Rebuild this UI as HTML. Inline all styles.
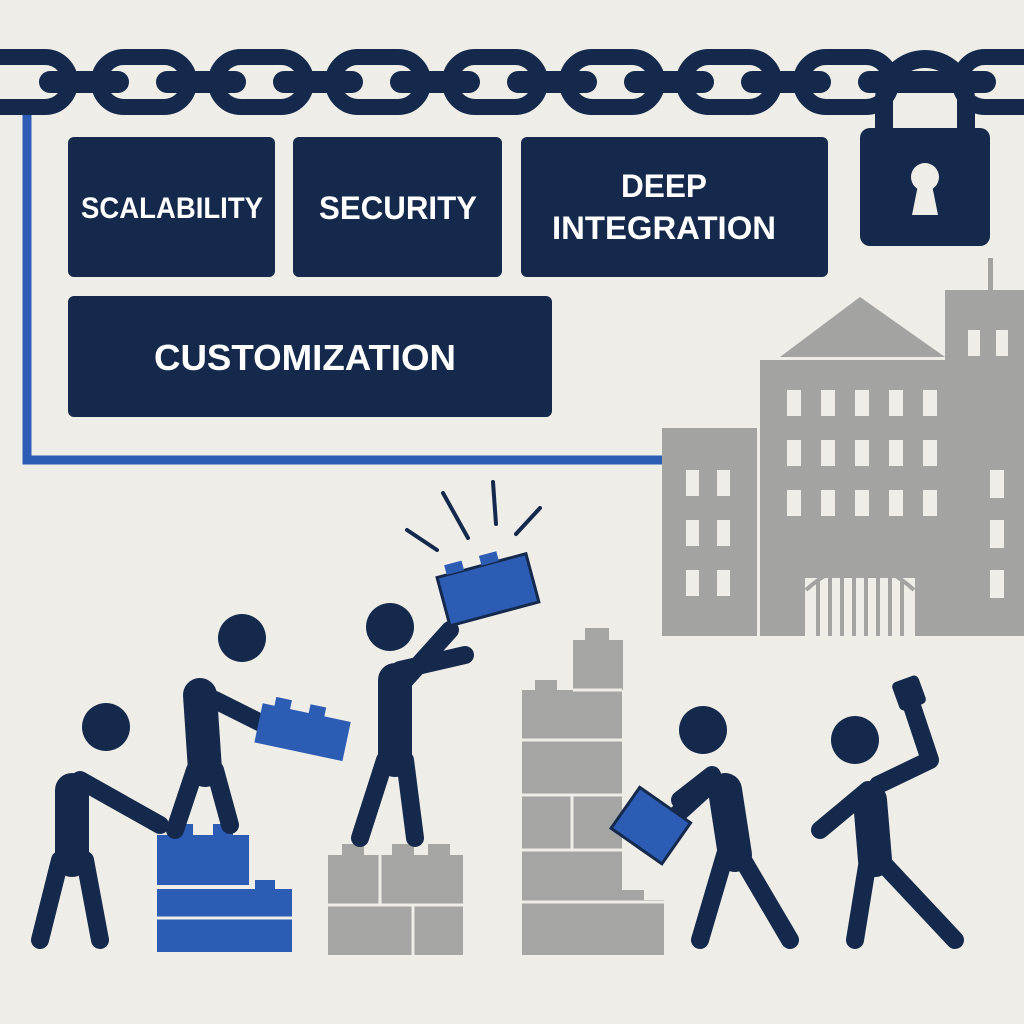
<!DOCTYPE html>
<html><head><meta charset="utf-8"><style>
html,body{margin:0;padding:0;background:#efede8;}
svg{display:block}
</style></head><body>
<svg width="1024" height="1024" viewBox="0 0 1024 1024" xmlns="http://www.w3.org/2000/svg">
<rect width="1024" height="1024" fill="#efede8"/>
<!-- blue connector -->
<path d="M27 100 V460 H712" fill="none" stroke="#2c5cb3" stroke-width="9"/>
<!-- chain -->
<g fill="none" stroke="#14294b" stroke-width="16">
  <rect x="-38" y="57" width="108" height="50" rx="25"/>
  <rect x="99" y="57" width="90" height="50" rx="25"/>
  <rect x="216" y="57" width="90" height="50" rx="25"/>
  <rect x="333" y="57" width="90" height="50" rx="25"/>
  <rect x="450" y="57" width="90" height="50" rx="25"/>
  <rect x="567" y="57" width="90" height="50" rx="25"/>
  <rect x="684" y="57" width="90" height="50" rx="25"/>
  <rect x="801" y="57" width="90" height="50" rx="25"/>
  <rect x="960" y="57" width="100" height="50" rx="25"/>
</g>
<g stroke="#14294b" stroke-width="22" stroke-linecap="round">
  <line x1="50" y1="82" x2="118" y2="82"/>
  <line x1="167" y1="82" x2="235" y2="82"/>
  <line x1="284" y1="82" x2="352" y2="82"/>
  <line x1="401" y1="82" x2="469" y2="82"/>
  <line x1="518" y1="82" x2="586" y2="82"/>
  <line x1="635" y1="82" x2="703" y2="82"/>
  <line x1="752" y1="82" x2="820" y2="82"/>
  <line x1="869" y1="82" x2="985" y2="82"/>
</g>
<!-- padlock -->
<path d="M884 135 V100 a41 41 0 0 1 82 0 V135" fill="none" stroke="#14294b" stroke-width="18"/>
<rect x="860" y="128" width="130" height="118" rx="10" fill="#14294b"/>
<circle cx="925" cy="177" r="14" fill="#efede8"/>
<path d="M919 180 L912 215 H938 L931 180 Z" fill="#efede8"/>
<!-- boxes -->
<g fill="#14294b">
  <rect x="68" y="137" width="207" height="140" rx="6"/>
  <rect x="293" y="137" width="209" height="140" rx="6"/>
  <rect x="521" y="137" width="307" height="140" rx="6"/>
  <rect x="68" y="296" width="484" height="121" rx="6"/>
</g>
<g fill="#fff" font-family="Liberation Sans, sans-serif" font-weight="bold" text-anchor="middle">
  <text x="172" y="218" font-size="30" textLength="182" lengthAdjust="spacingAndGlyphs">SCALABILITY</text>
  <text x="398" y="219" font-size="32" textLength="158" lengthAdjust="spacingAndGlyphs">SECURITY</text>
  <text x="664" y="197" font-size="32" textLength="86" lengthAdjust="spacingAndGlyphs">DEEP</text>
  <text x="664" y="239" font-size="32" textLength="224" lengthAdjust="spacingAndGlyphs">INTEGRATION</text>
  <text x="305" y="370" font-size="36" textLength="302" lengthAdjust="spacingAndGlyphs">CUSTOMIZATION</text>
</g>
<!-- buildings -->
<g fill="#a3a3a2">
  <rect x="988" y="258" width="5" height="35"/>
  <rect x="945" y="290" width="79" height="346"/>
  <rect x="662" y="428" width="95" height="208"/>
  <polygon points="780,357 860,297 945,357"/>
  <rect x="760" y="360" width="205" height="276"/>
  <rect x="965" y="445" width="59" height="191"/>
</g>
<g fill="#efede8">
  <g id="wrow">
  <rect x="787" y="390" width="14" height="26"/><rect x="821" y="390" width="14" height="26"/><rect x="855" y="390" width="14" height="26"/><rect x="889" y="390" width="14" height="26"/><rect x="923" y="390" width="14" height="26"/>
  </g>
  <use href="#wrow" y="50"/><use href="#wrow" y="100"/>
  <rect x="686" y="470" width="13" height="26"/><rect x="717" y="470" width="13" height="26"/>
  <rect x="686" y="520" width="13" height="26"/><rect x="717" y="520" width="13" height="26"/>
  <rect x="686" y="570" width="13" height="26"/><rect x="717" y="570" width="13" height="26"/>
  <rect x="990" y="470" width="14" height="28"/><rect x="990" y="520" width="14" height="28"/><rect x="990" y="570" width="14" height="28"/>
  <rect x="968" y="330" width="12" height="26"/><rect x="996" y="330" width="12" height="26"/>
  <rect x="803" y="578" width="114" height="58"/>
</g>
<g stroke="#a3a3a2" stroke-width="4" fill="none">
  <path d="M806 590 Q860 540 914 590"/>
  <line x1="818" y1="580" x2="818" y2="636"/><line x1="830" y1="570" x2="830" y2="636"/><line x1="842" y1="563" x2="842" y2="636"/><line x1="854" y1="560" x2="854" y2="636"/><line x1="866" y1="560" x2="866" y2="636"/><line x1="878" y1="563" x2="878" y2="636"/><line x1="890" y1="570" x2="890" y2="636"/><line x1="902" y1="580" x2="902" y2="636"/>
</g>
<rect x="783" y="575" width="22" height="61" fill="#a3a3a2"/><rect x="915" y="575" width="22" height="61" fill="#a3a3a2"/>
<!-- bricks blue -->
<g fill="#2c5cb3">
  <rect x="157" y="835" width="92" height="50"/><rect x="173" y="824" width="20" height="12"/><rect x="213" y="824" width="20" height="12"/>
  <rect x="157" y="889" width="135" height="63"/><rect x="255" y="880" width="20" height="10"/>
</g>
<line x1="157" y1="918" x2="292" y2="918" stroke="#efede8" stroke-width="3"/>
<!-- gray bricks -->
<g fill="#a5a5a3">
  <rect x="328" y="855" width="135" height="100"/><rect x="342" y="844" width="22" height="12"/><rect x="392" y="844" width="22" height="12"/><rect x="428" y="844" width="22" height="12"/>
  <rect x="522" y="690" width="100" height="265"/><rect x="573" y="640" width="50" height="50"/><rect x="585" y="628" width="24" height="12"/>
  <rect x="535" y="680" width="22" height="10"/>
  <rect x="622" y="900" width="42" height="55"/><rect x="585" y="890" width="22" height="10"/><rect x="622" y="890" width="22" height="10"/>
</g>
<g stroke="#efede8" stroke-width="3">
  <line x1="328" y1="905" x2="463" y2="905"/><line x1="413" y1="905" x2="413" y2="955"/><line x1="380" y1="855" x2="380" y2="905"/>
  <line x1="522" y1="740" x2="622" y2="740"/><line x1="522" y1="795" x2="622" y2="795"/><line x1="522" y1="850" x2="622" y2="850"/><line x1="522" y1="902" x2="664" y2="902"/>
  <line x1="573" y1="690" x2="622" y2="690"/><line x1="572" y1="795" x2="572" y2="850"/>
</g>
<!-- people -->
<g fill="#14294b">
  <circle cx="106" cy="727" r="24"/><circle cx="242" cy="638" r="24"/><circle cx="390" cy="627" r="24"/><circle cx="703" cy="730" r="24"/><circle cx="855" cy="740" r="24"/>
</g>
<g stroke="#14294b" stroke-linecap="round" stroke-linejoin="round" fill="none">
  <g stroke-width="34"><line x1="72" y1="790" x2="72" y2="860"/><line x1="200" y1="695" x2="205" y2="770"/><line x1="395" y1="680" x2="395" y2="760"/><line x1="725" y1="790" x2="735" y2="855"/><line x1="870" y1="800" x2="875" y2="860"/></g>
  <g stroke-width="18">
    <path d="M60 860 L40 940"/><path d="M85 860 L100 940"/><path d="M80 780 L160 825"/>
    <path d="M195 770 L175 830"/><path d="M215 770 L230 825"/><path d="M215 700 L285 735"/>
    <path d="M385 760 L360 838"/><path d="M405 760 L415 838"/><path d="M405 680 L450 630"/><path d="M400 670 L465 655"/>
    <path d="M725 855 L700 940"/><path d="M740 855 L790 940"/><path d="M715 780 L660 830"/><path d="M712 775 L680 800"/>
    <path d="M868 860 L855 940"/><path d="M880 860 L955 940"/><path d="M868 790 L820 830"/><path d="M878 785 L930 760 L910 700"/>
  </g>
</g>
<rect x="895" y="678" width="28" height="30" rx="5" fill="#14294b" transform="rotate(-20 909 693)"/>
<!-- held bricks -->
<g transform="rotate(12 302 730)"><rect x="258" y="712" width="90" height="40" fill="#2c5cb3"/><rect x="270" y="703" width="16" height="10" fill="#2c5cb3"/><rect x="305" y="703" width="16" height="10" fill="#2c5cb3"/></g>
<g transform="rotate(-15 487 590)"><rect x="442" y="565" width="92" height="50" fill="#2c5cb3" stroke="#14294b" stroke-width="3"/><rect x="452" y="555" width="18" height="10" fill="#2c5cb3"/><rect x="488" y="555" width="18" height="10" fill="#2c5cb3"/></g>
<g transform="rotate(35 650 825)"><rect x="620" y="800" width="62" height="50" fill="#2c5cb3" stroke="#14294b" stroke-width="3"/></g>
<g stroke="#14294b" stroke-width="4" stroke-linecap="round"><line x1="407" y1="530" x2="437" y2="550"/><line x1="443" y1="493" x2="468" y2="538"/><line x1="493" y1="482" x2="496" y2="524"/><line x1="540" y1="508" x2="516" y2="534"/></g>
</svg>
</body></html>
